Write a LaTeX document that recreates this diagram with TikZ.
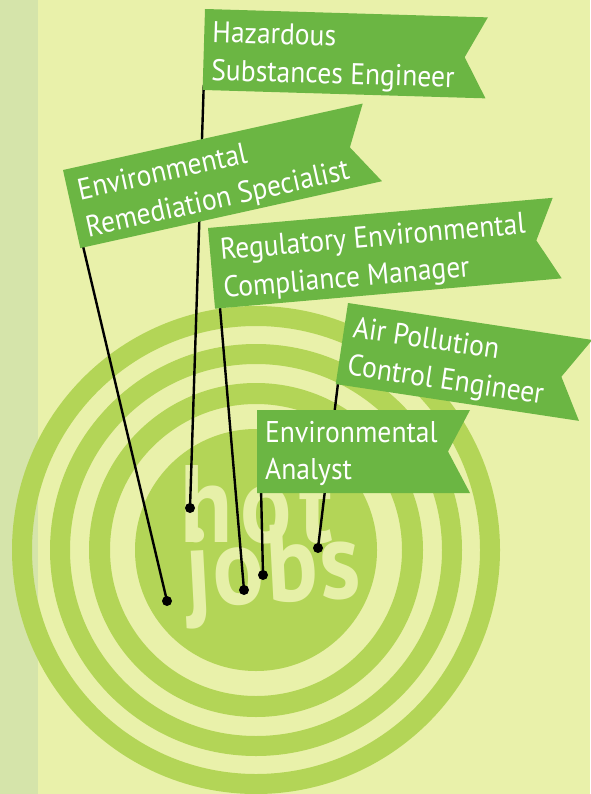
\documentclass[tikz,border=0pt]{standalone}
\usepackage{fontspec}
\newfontfamily\bannerfont[FakeStretch=0.92]{PT Sans}
\newfontfamily\hotfont[FakeStretch=0.87]{PT Sans}
\definecolor{bgc}{HTML}{E9F1AA}
\definecolor{bandc}{HTML}{D5E4AA}
\definecolor{ringc}{HTML}{B3D557}
\definecolor{bannerc}{HTML}{6BB643}
\definecolor{hotc}{HTML}{E6F0A8}
\pgfdeclarelayer{back}
\pgfdeclarelayer{mid}
\pgfsetlayers{back,mid,main}
\begin{document}
\begin{tikzpicture}[x=1pt,y=-1pt,
  ring/.style={draw=ringc},
  flag/.style={fill=bannerc},
  btext/.style={anchor=base west,inner sep=0pt,text=white,font=\bannerfont\fontsize{30}{30}\selectfont},
  hottext/.style={anchor=base west,inner sep=0pt,text=hotc,font=\hotfont\bfseries\fontsize{110}{110}\selectfont},
  pole/.style={draw=black,line width=2.4pt},
  pin/.style={circle,fill=black,inner sep=0pt,minimum size=10pt}]
\useasboundingbox (0,0) rectangle (590,794);
\begin{pgfonlayer}{back}
\fill[bgc] (0,0) rectangle (590,794);
\fill[bandc] (0,0) rectangle (38,794);
\coordinate (ctr) at (256,550);
\draw[ring,line width=20pt] (ctr) circle[radius=234pt];
\draw[ring,line width=20pt] (ctr) circle[radius=196pt];
\draw[ring,line width=21pt] (ctr) circle[radius=156.5pt];
\fill[ringc] (ctr) circle[radius=121pt];
\node[hottext] (hot) at (180,542) {\addfontfeature{LetterSpace=7}hot};
\node[hottext,rotate=3] (jobs) at (187,607) {\addfontfeature{LetterSpace=2}jobs};
\end{pgfonlayer}
% banner 1
\begin{scope}[shift={(205,9)},rotate=-1.7,transform shape]
\fill[flag] (0,0) -- (283,0) -- (261,40.5) -- (283,81) -- (0,81) -- cycle;
\node[btext] (b1a) at (8,33) {Hazardous};
\node[btext] (b1b) at (8,71) {Substances Engineer};
\coordinate (p1) at (1,76);
\end{scope}
% banner 2
\begin{scope}[shift={(63,170)},rotate=12.5,transform shape]
\fill[flag] (0,0) -- (307,0) -- (285,40) -- (309,80) -- (0,80) -- cycle;
\node[btext] (b2a) at (10,33) {Environmental};
\node[btext] (b2b) at (10,71) {Remediation Specialist};
\coordinate (p2) at (3,75);
\end{scope}
% banner 3
\begin{scope}[shift={(208,228)},rotate=5,transform shape]
\fill[flag] (0,0) -- (346,0) -- (326,41) -- (348,81) -- (0,81) -- cycle;
\node[btext] (b3a) at (10,33) {Regulatory Environmental};
\node[btext] (b3b) at (10,71) {Compliance Manager};
\coordinate (p3) at (5,75);
\end{scope}
% banner 4
\begin{scope}[shift={(348,303)},rotate=-8.6,transform shape]
\fill[flag] (0,0) -- (247,0) -- (222,41) -- (246,82) -- (0,82) -- cycle;
\node[btext] (b4a) at (9,33) {Air Pollution};
\node[btext] (b4b) at (9,71) {Control Engineer};
\coordinate (p4) at (2,77);
\end{scope}
% banner 5
\begin{scope}[shift={(257,410)}]
\fill[flag] (0,0) -- (213,0) -- (191,41.5) -- (213,83) -- (0,83) -- cycle;
\node[btext] (b5a) at (8,32) {Environmental};
\node[btext] (b5b) at (8,69) {Analyst};
\coordinate (p5) at (4,78);
\end{scope}
\begin{pgfonlayer}{mid}
\node[pin] (d1) at (190,508) {};
\node[pin] (d2) at (167,601) {};
\node[pin] (d3) at (244,590) {};
\node[pin] (d4) at (263,575) {};
\node[pin] (d5) at (318,548) {};
\draw[pole] (p1) -- (d1.center);
\draw[pole] (p2) -- (d2.center);
\draw[pole] (p3) -- (d3.center);
\draw[pole] (p4) -- (d5.center);
\draw[pole] (p5) -- (d4.center);
\end{pgfonlayer}
\end{tikzpicture}
\end{document}
